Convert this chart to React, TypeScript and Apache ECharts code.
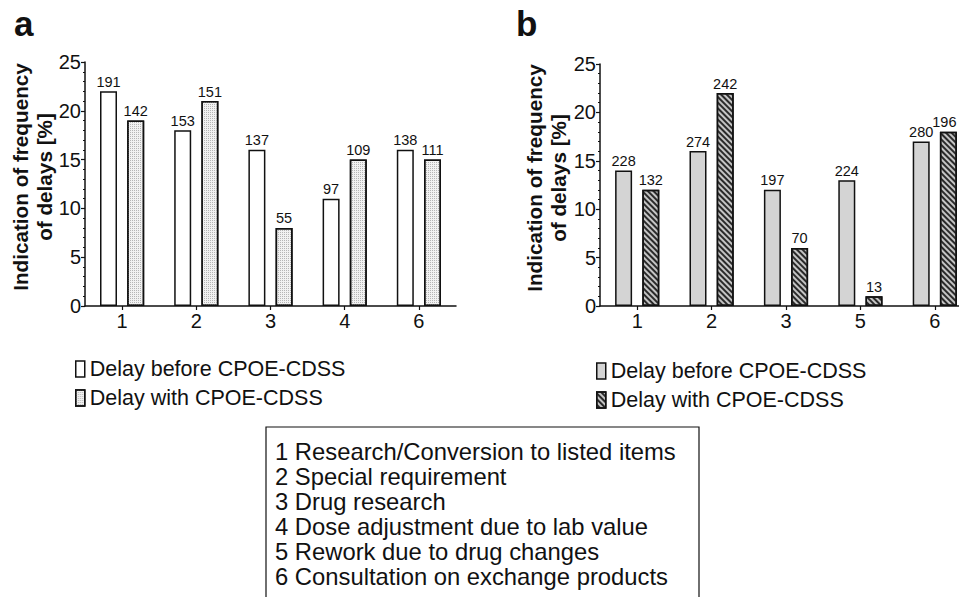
import React, { useEffect, useRef } from "react";
import * as echarts from "echarts";

const categoriesA = ["1", "2", "3", "4", "6"];
const beforeA = [22, 18, 16, 11, 16];
const withA = [19, 21, 8, 15, 15];
const beforeCountA = [191, 153, 137, 97, 138];
const withCountA = [142, 151, 55, 109, 111];

const categoriesB = ["1", "2", "3", "5", "6"];
const beforeB = [14, 16, 12, 13, 17];
const withB = [12, 22, 6, 1, 18];
const beforeCountB = [228, 274, 197, 224, 280];
const withCountB = [132, 242, 70, 13, 196];

const yMin = 0;
const yMax = 25;
const yInterval = 5;

const legendLabels = ["Delay before CPOE-CDSS", "Delay with CPOE-CDSS"];
const yTitle = "Indication of frequency\nof delays [%]";
const panelLetters = ["a", "b"];
const keyLines = [
  "1 Research/Conversion to listed items",
  "2 Special requirement",
  "3 Drug research",
  "4 Dose adjustment due to lab value",
  "5 Rework due to drug changes",
  "6 Consultation on exchange products",
];

const FONT = "'Liberation Sans', Arial, Helvetica, sans-serif";
const INK = "#111";

export default function App() {
  const ref = useRef<HTMLDivElement>(null);

  useEffect(() => {
    if (!ref.current) return;
    const chart = echarts.init(ref.current, undefined, { renderer: "svg" });

    const yAxisBase = (gridIndex: number) => ({
      type: "value" as const,
      gridIndex,
      min: yMin,
      max: yMax,
      interval: yInterval,
      axisLine: { show: true, lineStyle: { color: INK, width: 1.5 } },
      axisTick: { show: true, length: 4, lineStyle: { color: INK, width: 1.2 } },
      minorTick: { show: true, splitNumber: 5, length: 2, lineStyle: { color: INK, width: 1 } },
      splitLine: { show: false },
      axisLabel: { fontSize: 20, color: INK, fontFamily: FONT, margin: 4 },
    });

    const xAxisBase = (gridIndex: number, data: string[]) => ({
      type: "category" as const,
      gridIndex,
      data,
      axisLine: { show: true, lineStyle: { color: INK, width: 1.5 } },
      axisTick: { show: true, alignWithLabel: true, length: 4, lineStyle: { color: INK, width: 1.2 } },
      axisLabel: { fontSize: 20, color: INK, fontFamily: FONT, margin: 5 },
    });

    const labelFor = (counts: number[]) => ({
      show: true,
      position: "top" as const,
      distance: 2,
      fontSize: 14.5,
      color: INK,
      fontFamily: FONT,
      formatter: (p: any) => String(counts[p.dataIndex]),
    });

    const barCommon = { barWidth: 17, barGap: "60%" };

    const nameMap: Record<string, string> = {
      aBefore: legendLabels[0],
      aWith: legendLabels[1],
      bBefore: legendLabels[0],
      bWith: legendLabels[1],
    };

    const legendBase = {
      orient: "vertical" as const,
      icon: "rect",
      itemWidth: 9,
      itemHeight: 16,
      itemGap: 7,
      textStyle: { fontSize: 21.5, color: INK, fontFamily: FONT },
      itemStyle: { borderColor: INK, borderWidth: 1.5 },
      formatter: (name: string) => nameMap[name] || name,
      selectedMode: false as const,
    };

    // keep the last label of panel b inside the canvas
    const withBData = withB.map((v, i) =>
      i === withB.length - 1 ? { value: v, label: { offset: [-4, 0] } } : v
    );

    chart.setOption({
      animation: false,
      backgroundColor: "#fff",
      grid: [
        { left: 85, top: 62, width: 371, height: 244, outerBoundsMode: "none" },
        { left: 600, top: 64, width: 372, height: 242, outerBoundsMode: "none" },
      ],
      xAxis: [xAxisBase(0, categoriesA), xAxisBase(1, categoriesB)],
      yAxis: [yAxisBase(0), yAxisBase(1)],
      legend: [
        { ...legendBase, left: 70, top: 353, data: ["aBefore", "aWith"] },
        { ...legendBase, left: 591, top: 355, data: ["bBefore", "bWith"] },
      ],
      series: [
        {
          type: "bar",
          name: "aBefore",
          xAxisIndex: 0,
          yAxisIndex: 0,
          data: beforeA,
          ...barCommon,
          itemStyle: { color: "#ffffff", borderColor: INK, borderWidth: 1.5 },
          label: labelFor(beforeCountA),
        },
        {
          type: "bar",
          name: "aWith",
          xAxisIndex: 0,
          yAxisIndex: 0,
          data: withA,
          ...barCommon,
          itemStyle: {
            color: "#f1f1f1",
            borderColor: INK,
            borderWidth: 1.5,
            decal: {
              symbol: "rect",
              symbolSize: 1,
              dashArrayX: [1, 1],
              dashArrayY: [1, 1],
              color: "#b5b5b5",
            },
          },
          label: labelFor(withCountA),
        },
        {
          type: "bar",
          name: "bBefore",
          xAxisIndex: 1,
          yAxisIndex: 1,
          data: beforeB,
          ...barCommon,
          itemStyle: { color: "#d4d4d4", borderColor: INK, borderWidth: 1.5 },
          label: labelFor(beforeCountB),
        },
        {
          type: "bar",
          name: "bWith",
          xAxisIndex: 1,
          yAxisIndex: 1,
          data: withBData,
          ...barCommon,
          itemStyle: {
            color: "#c4c4c4",
            borderColor: INK,
            borderWidth: 1.5,
            decal: {
              symbol: "rect",
              symbolSize: 1,
              dashArrayX: [1, 0],
              dashArrayY: [2, 2],
              rotation: Math.PI / 4,
              color: "#2a2a2a",
            },
          },
          label: labelFor(withCountB),
        },
      ],
      graphic: [
        {
          type: "text",
          left: 14,
          top: 6,
          style: { text: panelLetters[0], font: `bold 35px ${FONT}`, fill: INK },
        },
        {
          type: "text",
          left: 516,
          top: 6,
          style: { text: panelLetters[1], font: `bold 35px ${FONT}`, fill: INK },
        },
        {
          type: "text",
          x: 32,
          y: 177,
          rotation: Math.PI / 2,
          style: {
            text: yTitle,
            font: `bold 20.7px ${FONT}`,
            fill: INK,
            align: "center",
            verticalAlign: "middle",
            lineHeight: 24,
          },
        },
        {
          type: "text",
          x: 546,
          y: 178,
          rotation: Math.PI / 2,
          style: {
            text: yTitle,
            font: `bold 20.7px ${FONT}`,
            fill: INK,
            align: "center",
            verticalAlign: "middle",
            lineHeight: 24,
          },
        },
        {
          type: "rect",
          shape: { x: 266, y: 427, width: 433, height: 200 },
          style: { fill: "none", stroke: INK, lineWidth: 1.2 },
        },
        {
          type: "text",
          x: 275,
          y: 439,
          style: {
            text: keyLines.join("\n"),
            font: `23.8px ${FONT}`,
            fill: INK,
            align: "left",
            verticalAlign: "top",
            lineHeight: 25,
          },
        },
      ],
    });

    return () => chart.dispose();
  }, []);

  return (
    <div
      ref={ref}
      style={{ position: "fixed", left: 0, top: 0, width: 959, height: 597 }}
    />
  );
}
